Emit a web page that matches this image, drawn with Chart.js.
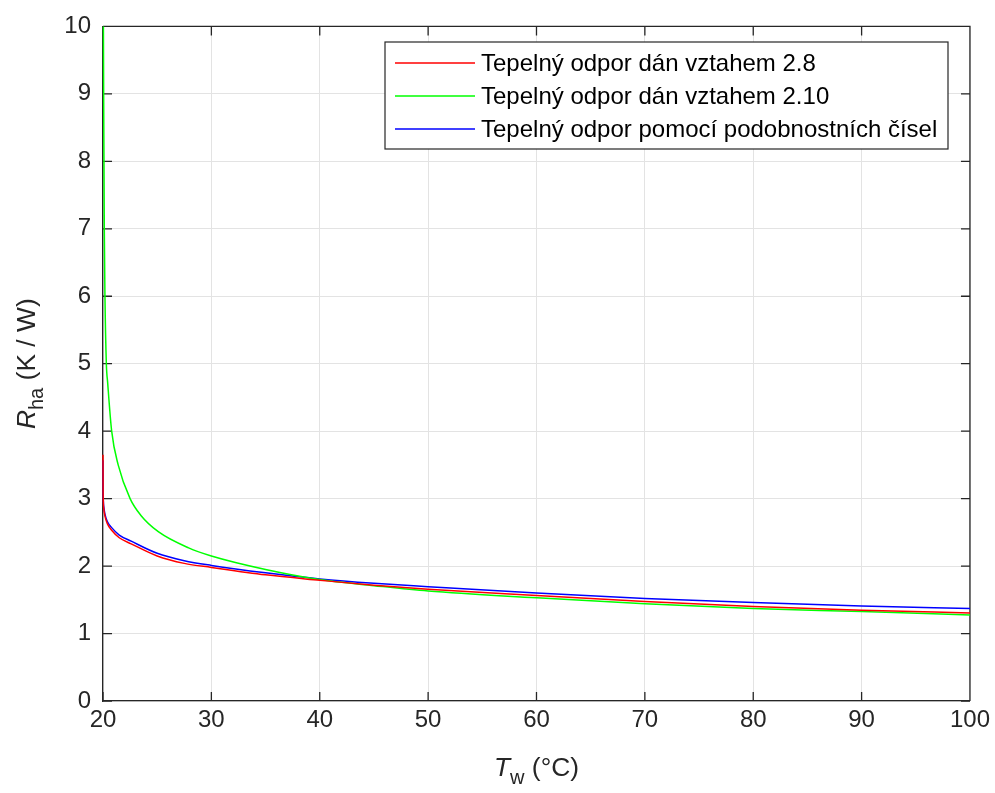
<!DOCTYPE html>
<html>
<head>
<meta charset="utf-8">
<script src="https://cdn.jsdelivr.net/npm/chart.js@4"></script>
<style>
  body { margin: 0; background: #fff; }
  #wrap { width: 995px; height: 793px; }
</style>
</head>
<body>
<div id="wrap"><canvas id="chart" width="995" height="793"></canvas></div>
<script>
// values
const seriesLabels = [
    'Tepelný odpor dán vztahem 2.8',
    'Tepelný odpor dán vztahem 2.10',
    'Tepelný odpor pomocí podobnostních čísel'
];

const redT = [20, 20.01, 20.03, 20.08, 20.18, 20.4, 20.8, 21.5, 22.6, 25, 27.5, 30, 35, 40, 45, 50, 60, 70, 80, 90, 100];
const redR = [3.65, 3.15, 2.95, 2.84, 2.74, 2.63, 2.53, 2.42, 2.33, 2.15, 2.04, 1.98, 1.87, 1.79, 1.715, 1.655, 1.565, 1.475, 1.40, 1.345, 1.305];

const greenT = [20.03, 20.06, 20.09, 20.12, 20.18, 20.31, 20.43, 20.8, 21.4, 22.5, 23.5, 25.1, 27.9, 30, 35, 40, 45, 50, 60, 70, 80, 90, 100];
const greenR = [10.4, 9.0, 8.0, 7.0, 6.0, 5.0, 4.72, 4.0, 3.5, 3.0, 2.75, 2.51, 2.27, 2.15, 1.95, 1.80, 1.71, 1.63, 1.53, 1.44, 1.37, 1.325, 1.275];

const blueT = [20, 20.01, 20.03, 20.08, 20.18, 20.4, 20.8, 21.5, 22.6, 25, 27.5, 30, 35, 40, 45, 50, 60, 70, 80, 90, 100];
const blueR = [3.57, 3.15, 2.98, 2.87, 2.77, 2.66, 2.57, 2.46, 2.37, 2.19, 2.08, 2.01, 1.90, 1.81, 1.745, 1.695, 1.60, 1.52, 1.46, 1.41, 1.37];

const xTicks = [20, 30, 40, 50, 60, 70, 80, 90, 100];
const yTicks = [0, 1, 2, 3, 4, 5, 6, 7, 8, 9, 10];

const FONT = "'Liberation Sans', Arial, Helvetica, sans-serif";
const AXIS = '#262626';

const toPoints = (xs, ys) => xs.map((x, i) => ({ x, y: ys[i] }));

function lineSet(label, xs, ys, color) {
    return {
        label,
        data: toPoints(xs, ys),
        borderColor: color,
        backgroundColor: color,
        borderWidth: 1.5,
        pointRadius: 0,
        cubicInterpolationMode: 'monotone',
        clip: { left: 1, top: 0, right: 1, bottom: 1 }
    };
}

// top/right box lines and inward tick marks, like MATLAB axes
const boxTicks = {
    id: 'boxTicks',
    beforeDatasetsDraw(chart) {
        const { ctx, chartArea: a, scales } = chart;
        const len = 9;
        ctx.save();
        ctx.strokeStyle = AXIS;
        ctx.lineWidth = 1.3;
        ctx.beginPath();
        ctx.moveTo(a.left, a.top); ctx.lineTo(a.right, a.top); ctx.lineTo(a.right, a.bottom);
        xTicks.forEach(v => {
            const px = scales.x.getPixelForValue(v);
            ctx.moveTo(px, a.bottom); ctx.lineTo(px, a.bottom - len);
            ctx.moveTo(px, a.top); ctx.lineTo(px, a.top + len);
        });
        yTicks.forEach(v => {
            const py = scales.y.getPixelForValue(v);
            ctx.moveTo(a.left, py); ctx.lineTo(a.left + len, py);
            ctx.moveTo(a.right, py); ctx.lineTo(a.right - len, py);
        });
        ctx.stroke();
        ctx.restore();
    }
};

// draws text with a subscript part: [main italic, sub, rest]
function drawSubText(ctx, x, y, main, sub, rest, size) {
    const subSize = size * 0.76;
    ctx.font = `italic ${size}px ${FONT}`;
    const w1 = ctx.measureText(main).width;
    ctx.font = `${subSize}px ${FONT}`;
    const w2 = ctx.measureText(sub).width;
    ctx.font = `${size}px ${FONT}`;
    const w3 = ctx.measureText(rest).width;
    let cx = x - (w1 + w2 + w3) / 2;
    ctx.textBaseline = 'alphabetic';
    ctx.textAlign = 'left';
    ctx.font = `italic ${size}px ${FONT}`;
    ctx.fillText(main, cx, y);
    cx += w1;
    ctx.font = `${subSize}px ${FONT}`;
    ctx.fillText(sub, cx, y + size * 0.3);
    cx += w2;
    ctx.font = `${size}px ${FONT}`;
    ctx.fillText(rest, cx, y);
}

const axisTitles = {
    id: 'axisTitles',
    afterDraw(chart) {
        const { ctx, chartArea: a } = chart;
        ctx.save();
        ctx.fillStyle = AXIS;
        drawSubText(ctx, (a.left + a.right) / 2, 776, 'T', 'w', ' (°C)', 26.4);
        ctx.translate(35, (a.top + a.bottom) / 2);
        ctx.rotate(-Math.PI / 2);
        drawSubText(ctx, 0, 0, 'R', 'ha', ' (K / W)', 26.4);
        ctx.restore();
    }
};

const boxLegend = {
    id: 'boxLegend',
    afterDraw(chart) {
        const { ctx } = chart;
        const left = 385, top = 42, right = 948, bottom = 149;
        ctx.save();
        ctx.fillStyle = '#fff';
        ctx.fillRect(left, top, right - left, bottom - top);
        ctx.strokeStyle = AXIS;
        ctx.lineWidth = 1.2;
        ctx.strokeRect(left, top, right - left, bottom - top);
        ctx.font = `24px ${FONT}`;
        ctx.textBaseline = 'middle';
        ctx.textAlign = 'left';
        chart.data.datasets.forEach((ds, i) => {
            const y = 63 + i * 33;
            ctx.strokeStyle = ds.borderColor;
            ctx.lineWidth = 1.5;
            ctx.beginPath();
            ctx.moveTo(395, y); ctx.lineTo(475, y);
            ctx.stroke();
            ctx.fillStyle = '#000';
            ctx.fillText(ds.label, 481, y + 1);
        });
        ctx.restore();
    }
};

new Chart(document.getElementById('chart'), {
    type: 'line',
    data: {
        datasets: [
            lineSet(seriesLabels[0], redT, redR, '#ff0000'),
            lineSet(seriesLabels[1], greenT, greenR, '#00ff00'),
            lineSet(seriesLabels[2], blueT, blueR, '#0000ff')
        ]
    },
    options: {
        responsive: false,
        animation: false,
        layout: { padding: { top: 21, right: 24, left: 0, bottom: 0 } },
        plugins: { legend: { display: false }, tooltip: { enabled: false } },
        scales: {
            x: {
                type: 'linear',
                min: 20, max: 100,
                afterFit: s => { s.height = 92; },
                afterBuildTicks: s => { s.ticks = xTicks.map(v => ({ value: v })); },
                ticks: { color: AXIS, font: { size: 24, family: FONT }, padding: 5, maxRotation: 0 },
                grid: { color: '#e3e3e3', lineWidth: 1, drawTicks: false },
                border: { color: AXIS, width: 1.3 }
            },
            y: {
                min: 0, max: 10,
                afterFit: s => { s.width = 103; },
                afterBuildTicks: s => { s.ticks = yTicks.map(v => ({ value: v })); },
                ticks: { color: AXIS, font: { size: 24, family: FONT }, padding: 12 },
                grid: { color: '#e3e3e3', lineWidth: 1, drawTicks: false },
                border: { color: AXIS, width: 1.3 }
            }
        }
    },
    plugins: [boxTicks, axisTitles, boxLegend]
});
</script>
</body>
</html>
